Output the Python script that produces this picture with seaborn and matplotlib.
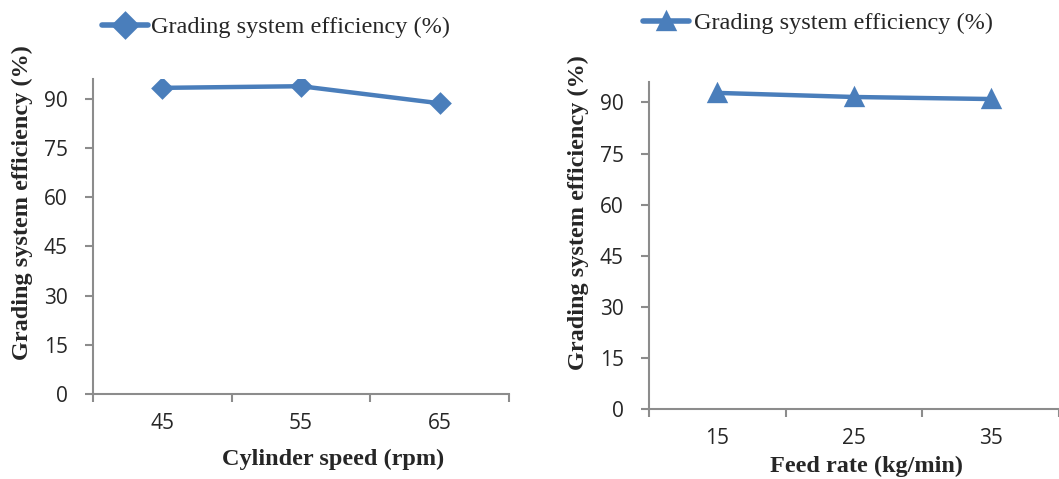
import seaborn as sns
import pandas as pd
import matplotlib.pyplot as plt

# values
cylinder_speed = ["45", "55", "65"]
eff_by_speed = [93.3, 93.8, 88.6]

feed_rate = ["15", "25", "35"]
eff_by_feed = [92.8, 91.6, 91.0]

y_ticks = [0, 15, 30, 45, 60, 75, 90]

BLUE = "#4a7ebb"
GREY = "#8c8c8c"

sns.set_style("white")
plt.rcParams["font.family"] = ["Liberation Serif", "DejaVu Serif"]


def panel(ax, cats, vals, marker, msize):
    df = pd.DataFrame({"x": cats, "y": vals})
    sns.pointplot(data=df, x="x", y="y", ax=ax, color=BLUE, marker=marker,
                  markersize=msize, linewidth=3.2, errorbar=None,
                  label="Grading system efficiency (%)")
    ax.set_xlim(-0.5, 2.5)
    ax.set_ylim(0, 96)
    ax.set_yticks(y_ticks)
    ax.set_yticklabels([str(t) for t in y_ticks], family="Open Sans", fontsize=15)
    ax.set_xticks([0, 1, 2])
    ax.set_xticklabels(cats, family="Open Sans", fontsize=15)
    ax.set_xticks([-0.5, 0.5, 1.5, 2.5], minor=True)
    ax.tick_params(axis="x", which="major", bottom=True, length=0, pad=14)
    ax.tick_params(axis="x", which="minor", bottom=True, length=6, width=1.5,
                   color=GREY, direction="out")
    ax.tick_params(axis="y", left=True, length=6, width=1.5, color=GREY,
                   direction="out", pad=12)
    for s in ["top", "right"]:
        ax.spines[s].set_visible(False)
    for s in ["left", "bottom"]:
        ax.spines[s].set_color(GREY)
        ax.spines[s].set_linewidth(1.5)
    ax.set_xlabel("")
    ax.set_ylabel("")
    return ax


fig = plt.figure(figsize=(10.59, 4.79), dpi=100)
ax1 = fig.add_axes([93 / 1059, 85 / 479, 416 / 1059, 315 / 479])
ax2 = fig.add_axes([649 / 1059, 70 / 479, 410 / 1059, 327 / 479])

panel(ax1, cylinder_speed, eff_by_speed, "D", 9)
panel(ax2, feed_rate, eff_by_feed, "^", 11)

leg1 = ax1.legend(loc="center left", bbox_to_anchor=(-0.002, 1.165), frameon=False,
                  fontsize=17.5, handlelength=1.9, handletextpad=0.1, borderaxespad=0)
leg2 = ax2.legend(loc="center left", bbox_to_anchor=(-0.038, 1.18), frameon=False,
                  fontsize=17.5, handlelength=1.9, handletextpad=0.2, borderaxespad=0)
for leg in (leg1, leg2):
    for h in leg.legend_handles:
        h.set_linewidth(4)
        h.set_markersize(12)

fig.text(333 / 1059, 1 - 459 / 479, "Cylinder speed (rpm)", ha="center", va="center",
         fontsize=17.5, fontweight="bold")
fig.text(866 / 1059, 1 - 466 / 479, "Feed rate (kg/min)", ha="center", va="center",
         fontsize=17.5, fontweight="bold")
fig.text(22 / 1059, 1 - 203 / 479, "Grading system efficiency (%)", rotation=90,
         ha="center", va="center", fontsize=17.5, fontweight="bold")
fig.text(578 / 1059, 1 - 213 / 479, "Grading system efficiency (%)", rotation=90,
         ha="center", va="center", fontsize=17.5, fontweight="bold")

fig.savefig("out.png", dpi=100)
